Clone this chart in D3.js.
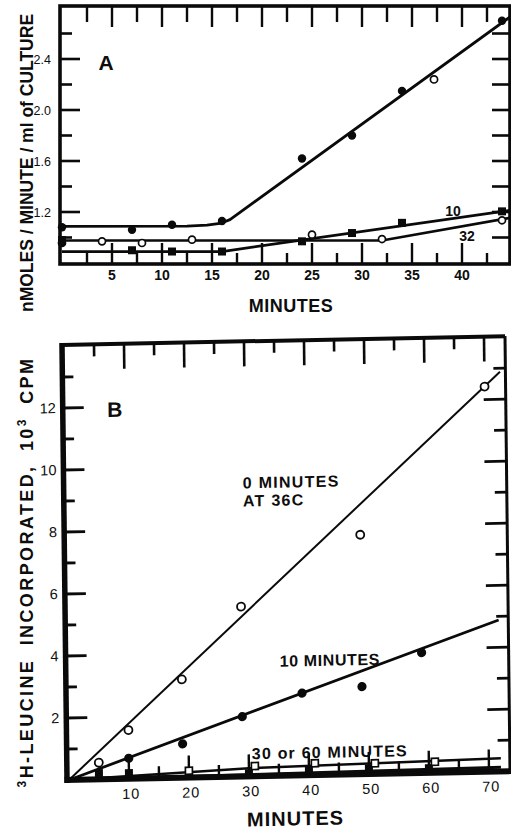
<!DOCTYPE html>
<html><head><meta charset="utf-8">
<script src="https://cdn.jsdelivr.net/npm/d3@7/dist/d3.min.js"></script>
<style>
html,body{margin:0;padding:0;background:#fff;}
svg{display:block;}
text{font-family:"Liberation Sans",Arial,Helvetica,sans-serif;fill:#0d0d0d;}
</style></head><body>
<svg id="chart" width="511" height="831"></svg>
<script>
// ---------------- Panel A data ----------------
const aXTickLabels = [5, 10, 15, 20, 25, 30, 35, 40];
const aXTicks = [2.5, 5, 7.5, 10, 12.5, 15, 17.5, 20, 22.5, 25, 27.5, 30, 32.5, 35, 37.5, 40, 42.5];
const aYTickLabels = [1.2, 1.6, 2.0, 2.4];
const aYMinorTicks = [1.0, 1.4, 1.8, 2.2, 2.6];

const a0Minutes = [0, 7, 11, 16, 24, 29, 34, 44];
const a0Rate = [1.08, 1.06, 1.10, 1.13, 1.62, 1.80, 2.15, 2.70];
const a0OpenMinutes = [37.2];
const a0OpenRate = [2.24];
const a0FitMinutes = [0, 12.5, 14.5, 15.8, 16.8, 44.8];
const a0FitRate = [1.088, 1.09, 1.097, 1.11, 1.14, 2.73];

const a10Minutes = [0, 7, 11, 16, 24, 29, 34, 44];
const a10Rate = [0.98, 0.90, 0.89, 0.89, 0.97, 1.035, 1.115, 1.205];
const a10FitMinutes = [0, 16, 44.8];
const a10FitRate = [0.89, 0.89, 1.213];

const a32Minutes = [0, 4, 8, 13, 25, 32, 44];
const a32Rate = [0.957, 0.97, 0.957, 0.983, 1.022, 0.988, 1.135];
const a32FitMinutes = [0, 32, 44.8];
const a32FitRate = [0.977, 0.977, 1.154];

// ---------------- Panel B data ----------------
const bXTickLabels = [10, 20, 30, 40, 50, 60, 70];
const bXTicks = [5, 10, 15, 20, 25, 30, 35, 40, 45, 50, 55, 60, 65, 70];
const bYTickLabels = [2, 4, 6, 8, 10, 12];
const bYTicks = [1, 2, 3, 4, 5, 6, 7, 8, 9, 10, 11, 12, 13];

const b0Minutes = [5, 10, 19, 29, 49, 70];
const b0Cpm = [0.54, 1.57, 3.17, 5.48, 7.72, 12.42];
const b0FitMinutes = [0, 72.6];
const b0FitCpm = [0, 12.89];

const b10Minutes = [10, 19, 29, 39, 49, 59];
const b10Cpm = [0.66, 1.09, 1.93, 2.65, 2.82, 3.88];
const b10FitMinutes = [0, 71.9];
const b10FitCpm = [0, 4.88];

const b3060OpenMinutes = [20, 31, 41, 51, 61];
const b3060OpenCpm = [0.22, 0.33, 0.38, 0.34, 0.35];
const b3060OpenFitMinutes = [0, 30, 72];
const b3060OpenFitCpm = [0, 0.26, 0.42];

const b3060FilledMinutes = [5, 10, 20, 30, 40, 50, 60];
const b3060FilledCpm = [0.2, 0.18, 0.08, 0.1, 0.19, 0.18, 0.15];
const b3060FilledFitMinutes = [0, 72];
const b3060FilledFitCpm = [0, 0.13];

// ---------------- drawing ----------------
const svg = d3.select('#chart');
const INK = '#0a0a0a';
const zip = (xs, ys) => xs.map((x, i) => [x, ys[i]]);

// each tick mark is its own small d3.line path, positioned through the scale
const segLine = d3.line();
function tickPaths(g, scale, vals, side, pos, len, width) {
  vals.forEach(d => {
    const v = scale(d);
    let pts;
    if (side === 'left') pts = [[pos, v], [pos + len, v]];
    if (side === 'right') pts = [[pos, v], [pos - len, v]];
    if (side === 'top') pts = [[v, pos], [v, pos + len]];
    if (side === 'bottom') pts = [[v, pos], [v, pos - len]];
    g.append('path').datum(pts).attr('d', segLine)
      .attr('fill', 'none').attr('stroke', INK).attr('stroke-width', width);
  });
}

// ===== Panel A =====
const A = { l: 60, r: 510, t: 6, b: 264 };
const ax = d3.scaleLinear().domain([0, 45]).range([62, 512]);
const ay = d3.scaleLinear().domain([1.0, 2.6]).range([237.5, 33.5]);
const gA = svg.append('g');

gA.append('rect').attr('x', A.l).attr('y', A.t).attr('width', A.r - A.l).attr('height', A.b - A.t)
  .attr('fill', 'none').attr('stroke', INK).attr('stroke-width', 3.6);
tickPaths(gA, ay, aYTickLabels, 'left', A.l, 20, 2.6);
tickPaths(gA, ay, aYMinorTicks, 'left', A.l, 12, 2.6);
tickPaths(gA, ay, aYTickLabels.concat(aYMinorTicks), 'right', A.r, 18, 2.6);
tickPaths(gA, ax, aXTicks.filter(v => v % 5 === 0), 'top', A.t, 21, 2.4);
tickPaths(gA, ax, aXTicks.filter(v => v % 5 !== 0), 'top', A.t, 16, 2.4);
tickPaths(gA, ax, aXTicks.filter(v => v % 5 === 0), 'bottom', A.b, 21, 2.4);
tickPaths(gA, ax, aXTicks.filter(v => v % 5 !== 0), 'bottom', A.b, 11, 2.4);

gA.selectAll('.ayl').data(aYTickLabels).join('text')
  .attr('x', 51).attr('y', d => ay(d) + 4.5).attr('text-anchor', 'end')
  .attr('font-size', 12.5).text(d => d.toFixed(1));
gA.selectAll('.axl').data(aXTickLabels).join('text')
  .attr('x', d => ax(d)).attr('y', 280).attr('text-anchor', 'middle')
  .attr('font-size', 14).attr('font-weight', 'bold').text(d => d);

const lineA = d3.line().x(d => ax(d[0])).y(d => ay(d[1]));
gA.append('path').datum(zip(a0FitMinutes, a0FitRate)).attr('d', lineA)
  .attr('fill', 'none').attr('stroke', INK).attr('stroke-width', 2.8).attr('stroke-linejoin', 'round');
gA.append('path').datum(zip(a10FitMinutes, a10FitRate)).attr('d', lineA)
  .attr('fill', 'none').attr('stroke', INK).attr('stroke-width', 2.8);
gA.append('path').datum(zip(a32FitMinutes, a32FitRate)).attr('d', lineA)
  .attr('fill', 'none').attr('stroke', INK).attr('stroke-width', 2.6);

gA.selectAll('.a0').data(zip(a0Minutes, a0Rate)).join('circle')
  .attr('cx', d => ax(d[0])).attr('cy', d => ay(d[1])).attr('r', 4.2).attr('fill', INK);
gA.selectAll('.a0o').data(zip(a0OpenMinutes, a0OpenRate)).join('circle')
  .attr('cx', d => ax(d[0])).attr('cy', d => ay(d[1])).attr('r', 3.6)
  .attr('fill', '#fff').attr('stroke', INK).attr('stroke-width', 1.7);
gA.selectAll('.a10').data(zip(a10Minutes, a10Rate)).join('rect')
  .attr('x', d => ax(d[0]) - 4).attr('y', d => ay(d[1]) - 4).attr('width', 8).attr('height', 8).attr('fill', INK);
gA.selectAll('.a32').data(zip(a32Minutes, a32Rate)).join('circle')
  .attr('cx', d => ax(d[0])).attr('cy', d => ay(d[1])).attr('r', 3.5)
  .attr('fill', d => d[0] === 0 ? INK : '#fff').attr('stroke', INK).attr('stroke-width', 1.7);

gA.append('text').attr('x', 106).attr('y', 70).attr('text-anchor', 'middle')
  .attr('font-size', 21).attr('font-weight', 'bold').text('A');
gA.append('text').attr('x', 453).attr('y', 216).attr('text-anchor', 'middle')
  .attr('font-size', 14).attr('font-weight', 'bold').text('10');
gA.append('text').attr('x', 467).attr('y', 241).attr('text-anchor', 'middle')
  .attr('font-size', 14).attr('font-weight', 'bold').text('32');
gA.append('text').attr('x', 291).attr('y', 312).attr('text-anchor', 'middle')
  .attr('font-size', 18).attr('font-weight', 'bold').attr('letter-spacing', 0.5).text('MINUTES');
svg.append('text').attr('transform', 'translate(33,163) rotate(-90)').attr('text-anchor', 'middle')
  .attr('font-size', 17.5).attr('font-weight', 'bold').text('nMOLES / MINUTE / ml of CULTURE');

// ===== Panel B (slightly skewed like the scan) =====
const B = { l: 67, r: 510, t: 345, b: 780 };
const skB = -0.02, skC = 0.0115;
const gB = svg.append('g')
  .attr('transform', `matrix(1,${skB},${skC},1,${-780 * skC},${-67 * skB})`);
const bx = d3.scaleLinear().domain([0, 73.67]).range([69, 511]);
const by = d3.scaleLinear().domain([0, 14]).range([780, 346]);

gB.append('line').attr('x1', B.l).attr('x2', B.r).attr('y1', B.t).attr('y2', B.t).attr('stroke', INK).attr('stroke-width', 4);
gB.append('line').attr('x1', B.r).attr('x2', B.r).attr('y1', B.t).attr('y2', B.b).attr('stroke', INK).attr('stroke-width', 3);
gB.append('line').attr('x1', B.l).attr('x2', B.l).attr('y1', B.t - 2).attr('y2', B.b + 3).attr('stroke', INK).attr('stroke-width', 5.5);
gB.append('line').attr('x1', B.l - 2.5).attr('x2', 512).attr('y1', B.b).attr('y2', B.b).attr('stroke', INK).attr('stroke-width', 6);

tickPaths(gB, by, bYTicks.filter(v => v % 2 === 0), 'left', B.l, 21, 2.8);
tickPaths(gB, by, bYTicks.filter(v => v % 2 !== 0), 'left', B.l, 11, 2.8);
tickPaths(gB, by, bYTicks.filter(v => v % 2 === 0), 'right', B.r, 22, 2.6);
tickPaths(gB, by, bYTicks.filter(v => v % 2 !== 0), 'right', B.r, 12, 2.6);
tickPaths(gB, bx, bXTicks.filter(v => v % 10 === 0), 'top', B.t, 25, 2.6);
tickPaths(gB, bx, bXTicks.filter(v => v % 10 !== 0), 'top', B.t, 12, 2.6);
tickPaths(gB, bx, bXTicks.filter(v => v % 10 === 0), 'bottom', B.b, 22, 2.4);
tickPaths(gB, bx, bXTicks.filter(v => v % 10 !== 0), 'bottom', B.b, 12, 2.4);

gB.selectAll('.byl').data(bYTickLabels).join('text')
  .attr('x', 60).attr('y', d => by(d) + 5).attr('text-anchor', 'end')
  .attr('font-size', 14.5).text(d => d);
gB.selectAll('.bxl').data(bXTickLabels).join('text')
  .attr('x', d => bx(d) + 2).attr('y', 800).attr('text-anchor', 'middle')
  .attr('font-size', 14.5).attr('letter-spacing', 1).text(d => d);

const lineB = d3.line().x(d => bx(d[0])).y(d => by(d[1]));
gB.append('path').datum(zip(b0FitMinutes, b0FitCpm)).attr('d', lineB)
  .attr('fill', 'none').attr('stroke', INK).attr('stroke-width', 2);
gB.append('path').datum(zip(b10FitMinutes, b10FitCpm)).attr('d', lineB)
  .attr('fill', 'none').attr('stroke', INK).attr('stroke-width', 2.8);
gB.append('path').datum(zip(b3060OpenFitMinutes, b3060OpenFitCpm)).attr('d', lineB)
  .attr('fill', 'none').attr('stroke', INK).attr('stroke-width', 2.5);
gB.append('path').datum(zip(b3060FilledFitMinutes, b3060FilledFitCpm)).attr('d', lineB)
  .attr('fill', 'none').attr('stroke', INK).attr('stroke-width', 3);

gB.selectAll('.bfs').data(zip(b3060FilledMinutes, b3060FilledCpm)).join('rect')
  .attr('x', d => bx(d[0]) - 4).attr('y', d => by(d[1]) - 4).attr('width', 8).attr('height', 8).attr('fill', INK);
gB.selectAll('.bos').data(zip(b3060OpenMinutes, b3060OpenCpm)).join('rect')
  .attr('x', d => bx(d[0]) - 3.5).attr('y', d => by(d[1]) - 3.5).attr('width', 7).attr('height', 7)
  .attr('fill', '#fff').attr('stroke', INK).attr('stroke-width', 1.7);
gB.selectAll('.b0').data(zip(b0Minutes, b0Cpm)).join('circle')
  .attr('cx', d => bx(d[0])).attr('cy', d => by(d[1])).attr('r', 4)
  .attr('fill', '#fff').attr('stroke', INK).attr('stroke-width', 1.8);
gB.selectAll('.b10').data(zip(b10Minutes, b10Cpm)).join('circle')
  .attr('cx', d => bx(d[0])).attr('cy', d => by(d[1])).attr('r', 4.6).attr('fill', INK);

gB.append('text').attr('x', 119).attr('y', 418).attr('text-anchor', 'middle')
  .attr('font-size', 21).attr('font-weight', 'bold').text('B');
gB.append('text').attr('x', 246).attr('y', 492).attr('font-size', 16).attr('font-weight', 'bold')
  .attr('letter-spacing', 1.3).text('0 MINUTES');
gB.append('text').attr('x', 246).attr('y', 510).attr('font-size', 16).attr('font-weight', 'bold')
  .attr('letter-spacing', 1.3).text('AT 36C');
gB.append('text').attr('x', 281).attr('y', 671).attr('font-size', 16).attr('font-weight', 'bold')
  .attr('letter-spacing', 0.6).text('10 MINUTES');
gB.append('text').attr('x', 252).attr('y', 763).attr('font-size', 16).attr('font-weight', 'bold')
  .attr('letter-spacing', 1.2).text('30 or 60 MINUTES');
gB.append('text').attr('x', 295).attr('y', 830).attr('text-anchor', 'middle')
  .attr('font-size', 20).attr('font-weight', 'bold').attr('letter-spacing', 1).text('MINUTES');

const tB = svg.append('text').attr('transform', 'translate(33,572) rotate(-90)').attr('text-anchor', 'middle')
  .attr('font-size', 18).attr('font-weight', 'bold').attr('letter-spacing', 2.4).attr('word-spacing', 6);
tB.append('tspan').attr('font-size', 12).attr('dy', -7).text('3');
tB.append('tspan').attr('dy', 7).text('H-LEUCINE INCORPORATED, 10');
tB.append('tspan').attr('font-size', 12).attr('dy', -7).text('3');
tB.append('tspan').attr('dy', 7).text(' CPM');
</script>
</body></html>
